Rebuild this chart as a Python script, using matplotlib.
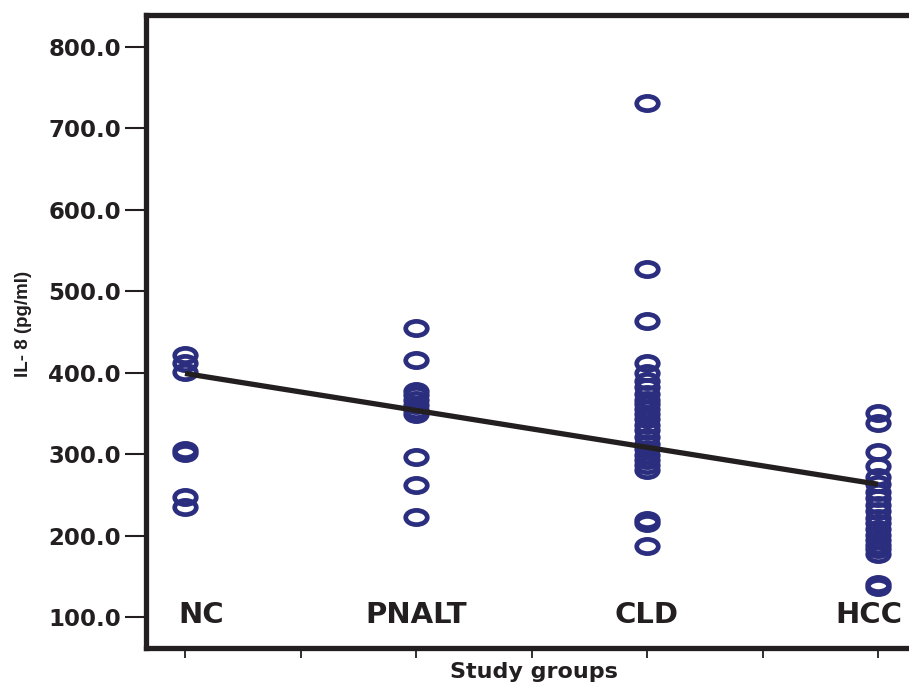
import numpy as np
import matplotlib
matplotlib.use("Agg")
from matplotlib import pyplot as plt
from matplotlib.path import Path
from matplotlib.transforms import Affine2D

groups = ["NC", "PNALT", "CLD", "HCC"]

nc = [422, 412, 401, 305, 301, 247, 235]
pnalt = [455, 416, 377, 372, 366, 360, 354, 349, 296, 262, 223]
cld = [731, 527, 464, 412, 400, 390, 382, 374, 367, 361, 355, 349, 343,
       336, 329, 321, 313, 306, 299, 293, 287, 280, 219, 216, 187]
hcc = [350, 338, 303, 285, 272, 263, 254, 246, 238, 230, 222, 215, 208,
       201, 195, 189, 183, 177, 141, 137]

# fitted trend line, value at first and last group
fit_y = [399, 263]

yticks = [100, 200, 300, 400, 500, 600, 700, 800]

dark = "#231f20"
navy = "#2b2e7e"

# squashed ring marker (the original figure is stretched sideways)
ring = Path.unit_circle().transformed(Affine2D().scale(1.0, 0.66))

fig = plt.figure(figsize=(9.09, 6.86), dpi=100)
ax = fig.add_axes([146 / 909, 38 / 686, 763 / 909, 633 / 686])

for i, vals in enumerate([nc, pnalt, cld, hcc]):
    ax.plot(np.full(len(vals), i + 1), vals, linestyle="none", marker=ring,
            markersize=15.5, markerfacecolor="none", markeredgecolor=navy,
            markeredgewidth=3.4, zorder=3)

ax.plot([1, len(groups)], fit_y, "-", color=dark, lw=3.8, zorder=4,
        solid_capstyle="butt")

ax.set_xlim(1 - 39 / 231, 4 + 31 / 231)
ax.set_ylim(62, 839)

ax.set_yticks(yticks)
ax.set_yticklabels(["%.1f" % v for v in yticks])
ax.set_xticks(np.arange(1, 4.01, 0.5))
ax.set_xticklabels([])

ax.tick_params(axis="y", direction="out", length=15, width=1.5, color=dark,
               pad=3, labelsize=16.5, labelcolor=dark)
ax.tick_params(axis="x", direction="out", length=7, width=1.3, color=dark)
for lab in ax.get_yticklabels():
    lab.set_fontweight("bold")

for side in ["left", "top", "bottom"]:
    ax.spines[side].set_linewidth(3.8)
    ax.spines[side].set_color(dark)
ax.spines["right"].set_visible(False)

# group names sit inside the frame, near the bottom
label_x = [1.07, 2, 3, 3.96]
for x, name in zip(label_x, groups):
    ax.text(x, 102, name, ha="center", va="center", fontsize=21,
            fontweight="bold", color=dark)

fig.text(534 / 909, 1 - 672 / 686, "Study groups", ha="center", va="center",
         fontsize=16, fontweight="bold", color=dark)
fig.text(24 / 909, 1 - 324 / 686, "IL- 8 (pg/ml)", rotation=90, ha="center",
         va="center", fontsize=13.5, fontweight="bold", color=dark,
         family="Liberation Sans")

fig.savefig("out.png", dpi=100)
